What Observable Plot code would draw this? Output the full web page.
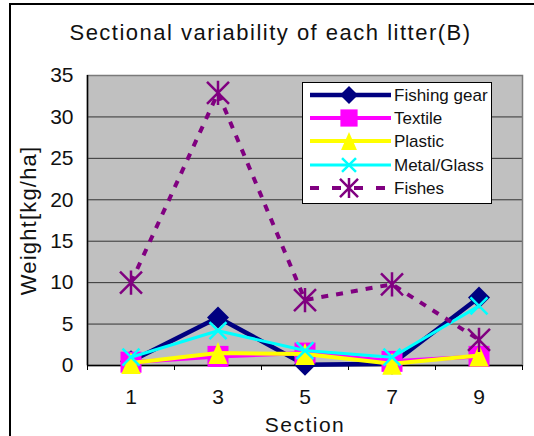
<!DOCTYPE html>
<html>
<head>
<meta charset="utf-8">
<script src="https://cdn.jsdelivr.net/npm/d3@7"></script>
<script src="https://cdn.jsdelivr.net/npm/@observablehq/plot@0.6"></script>
<style>
  html, body { margin: 0; padding: 0; background: #fff; }
  body { width: 534px; height: 436px; position: relative; overflow: hidden; font-family: "Liberation Sans", Arial, sans-serif; }
  #border { position: absolute; left: 9px; top: 3px; width: 700px; height: 600px; border: 2px solid #000; box-sizing: border-box; }
  #title { position: absolute; left: 0; top: 20px; width: 541px; text-align: center; font-size: 22px; letter-spacing: 1.5px; color: #111; }
  #chart { position: absolute; left: 0; top: 0; }
  #chart g[aria-label="y-axis label"] text { letter-spacing: 1.2px; font-size: 22px; }
  #chart g[aria-label="x-axis label"] text { letter-spacing: 1.5px; }
  #legend { position: absolute; left: 302px; top: 82px; }
</style>
</head>
<body>
<div id="border"></div>
<div id="chart"></div>
<div id="title">Sectional variability of each litter(B)</div>
<div id="legend"></div>
<script>
// ---- data ----
const sections = [1, 3, 5, 7, 9];
const fishingGear = [0.5, 5.8, 0.1, 0.2, 8.2];
const textile = [0.4, 1.1, 1.5, 0.5, 1.1];
const plastic = [0.3, 1.5, 1.4, 0.2, 1.2];
const metalGlass = [1.0, 4.2, 1.8, 1.0, 7.2];
const fishes = [10.0, 32.9, 7.9, 9.8, 3.1];
const seriesNames = ["Fishing gear", "Textile", "Plastic", "Metal/Glass", "Fishes"];
const yTicks = [0, 5, 10, 15, 20, 25, 30, 35];
const xTickLabels = ["1", "3", "5", "7", "9"];

// ---- symbols ----
const rOf = (size) => Math.sqrt(size / Math.PI);
const diamondSym = { draw(c, s) { const r = rOf(s); c.moveTo(0, -r); c.lineTo(r, 0); c.lineTo(0, r); c.lineTo(-r, 0); c.closePath(); } };
const squareSym = { draw(c, s) { const r = rOf(s); c.moveTo(-r, -r); c.lineTo(r, -r); c.lineTo(r, r); c.lineTo(-r, r); c.closePath(); } };
const triangleSym = { draw(c, s) { const r = rOf(s); c.moveTo(0, -r); c.lineTo(r * 0.88, r); c.lineTo(-r * 0.88, r); c.closePath(); } };
const timesSym = { draw(c, s) { const r = rOf(s); c.moveTo(-r, -r); c.lineTo(r, r); c.moveTo(r, -r); c.lineTo(-r, r); } };
const asteriskSym = { draw(c, s) { const r = rOf(s); c.moveTo(-r, -r); c.lineTo(r, r); c.moveTo(r, -r); c.lineTo(-r, r); c.moveTo(0, -r * 1.1); c.lineTo(0, r * 1.1); } };

const styles = [
  { values: fishingGear, color: "#000080", width: 4.5, dash: null, sym: diamondSym, r: 11, filled: true },
  { values: textile, color: "#ff00ff", width: 4, dash: null, sym: squareSym, r: 10.5, filled: true },
  { values: plastic, color: "#ffff00", width: 4, dash: null, sym: triangleSym, r: 11, filled: true },
  { values: metalGlass, color: "#00ffff", width: 3, dash: null, sym: timesSym, r: 8.5, filled: false },
  { values: fishes, color: "#800080", width: 4, dash: "7,8", sym: asteriskSym, r: 11, filled: false }
];

const seriesMarks = [];
styles.forEach((st, i) => {
  const data = sections.map((s, j) => ({ section: s, value: st.values[j], series: seriesNames[i] }));
  seriesMarks.push(Plot.line(data, {
    x: "section", y: "value", stroke: st.color, strokeWidth: st.width,
    strokeDasharray: st.dash, curve: "linear", strokeLinecap: st.dash ? "butt" : "round", strokeLinejoin: "round"
  }));
  seriesMarks.push(Plot.dot(data, {
    x: "section", y: "value", symbol: () => st.sym, r: st.r,
    fill: st.filled ? st.color : "none", stroke: st.color, strokeWidth: st.filled ? 0 : 2.5
  }));
});

const chart = Plot.plot({
  width: 534, height: 436,
  marginLeft: 87, marginRight: 12, marginTop: 75, marginBottom: 71,
  style: { fontFamily: "'Liberation Sans', Arial, sans-serif", fontSize: "21px", color: "#111", background: "transparent", overflow: "visible" },
  x: { domain: [0, 10] },
  y: { domain: [0, 35] },
  symbol: { type: "identity" },
  marks: [
    Plot.frame({ fill: "#c0c0c0", stroke: null }),
    Plot.gridY(yTicks, { stroke: "#333", strokeOpacity: 1, strokeWidth: 1 }),
    Plot.frame({ stroke: "#7a7a7a", strokeWidth: 1.5 }),
    Plot.ruleX([0], { stroke: "#000", strokeWidth: 1.5 }),
    Plot.ruleY([0], { stroke: "#000", strokeWidth: 1.5 }),
    Plot.axisY(yTicks, { tickSize: 0, tickPadding: 14, label: "Weight[kg/ha]", labelArrow: "none", labelAnchor: "center", labelOffset: 67 }),
    Plot.axisX([0, 2, 4, 6, 8, 10], { tickSize: 5, tickFormat: () => "", label: null, stroke: "#000" }),
    Plot.axisX(sections, { tickSize: 0, tickPadding: 24, tickFormat: (d, i) => xTickLabels[i], label: "Section", labelArrow: "none", labelAnchor: "center", labelOffset: 66 }),
    ...seriesMarks
  ]
});
document.getElementById("chart").appendChild(chart);

// ---- legend ----
const lw = 190, lh = 122;
const leg = d3.select("#legend").append("svg").attr("width", lw).attr("height", lh);
leg.append("rect").attr("x", 0.5).attr("y", 0.5).attr("width", lw - 1).attr("height", lh - 1)
  .attr("fill", "#fff").attr("stroke", "#000").attr("stroke-width", 1);
const rowY = [13, 36, 59, 83, 106];
styles.forEach((st, i) => {
  const g = leg.append("g").attr("transform", `translate(0,${rowY[i]})`);
  g.append("line").attr("x1", 8).attr("x2", 89).attr("y1", 0).attr("y2", 0)
    .attr("stroke", st.color).attr("stroke-width", st.width)
    .attr("stroke-dasharray", st.dash ? "9,13" : null);
  const sz = Math.PI * (st.r * 0.82) ** 2;
  g.append("path").attr("transform", "translate(47,0)")
    .attr("d", d3.symbol().type(st.sym).size(sz)())
    .attr("fill", st.filled ? st.color : "none").attr("stroke", st.color).attr("stroke-width", st.filled ? 0 : 2.5);
  g.append("text").attr("x", 92).attr("y", 0).attr("dy", "0.35em")
    .attr("font-family", "'Liberation Sans', Arial, sans-serif").attr("font-size", 17).attr("fill", "#111")
    .text(seriesNames[i]);
});
</script>
</body>
</html>
